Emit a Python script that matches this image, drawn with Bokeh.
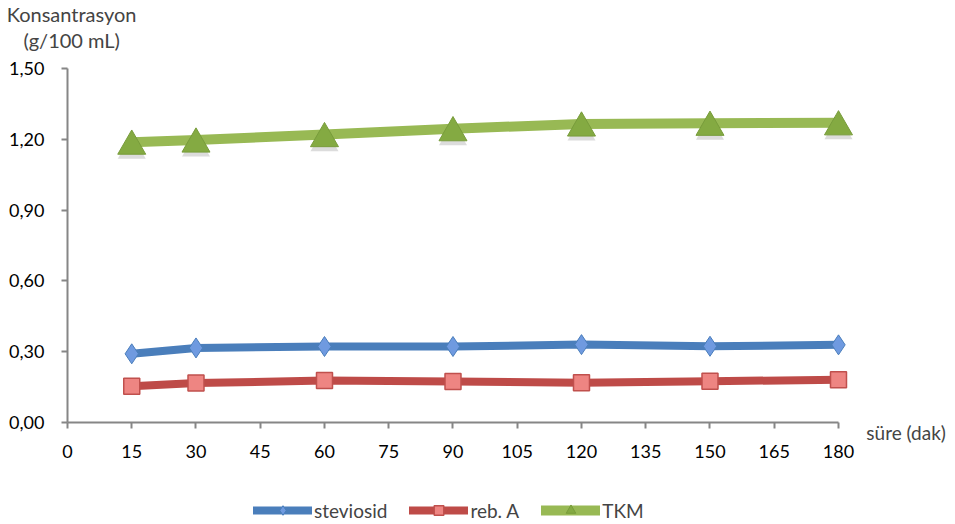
from bokeh.plotting import figure
from bokeh.models import Legend, LegendItem, Label, FixedTicker, Range1d, LinearAxis, ColumnDataSource
from bokeh.transform import dodge
from bokeh.embed import file_html
from bokeh.resources import INLINE

# sampling times (minutes)
sure = [15, 30, 60, 90, 120, 150, 180]
# concentrations (g/100 mL)
steviosid = [0.291, 0.316, 0.322, 0.322, 0.330, 0.323, 0.329]
reb_a = [0.154, 0.167, 0.178, 0.174, 0.168, 0.175, 0.181]
tkm = [1.188, 1.197, 1.220, 1.245, 1.265, 1.268, 1.270]

x_ticks = list(range(0, 181, 15))
y_ticks = [0.0, 0.3, 0.6, 0.9, 1.2, 1.5]
y_tick_labels = ["0,00", "0,30", "0,60", "0,90", "1,20", "1,50"]

FONT = "Lato"
TICK_FS = "18px"
TITLE_FS = "20px"
LEGEND_FS = "19px"
AXIS_GREY = "#868686"

# The plotting frame fills the whole canvas; the axes sit at x=0 / y=0
# so that labels and markers near the edges are never clipped.
W, H = 955, 524
px_x = 4.2833   # pixels per minute
px_y = 236.0    # pixels per g/100 mL
left_px, bottom_px = 67, 102
x0 = -left_px / px_x
y0 = -bottom_px / px_y

p = figure(width=W, height=H, output_backend="svg", toolbar_location=None,
           x_range=Range1d(x0, x0 + W / px_x), y_range=Range1d(y0, y0 + H / px_y),
           x_axis_location=None, y_axis_location=None, min_border=0)
p.outline_line_color = None
p.xgrid.visible = False
p.ygrid.visible = False

xaxis = LinearAxis(fixed_location=0, bounds=(0, 180), ticker=FixedTicker(ticks=x_ticks))
yaxis = LinearAxis(fixed_location=0, bounds=(0, 1.5), ticker=FixedTicker(ticks=y_ticks))
yaxis.major_label_overrides = dict(zip(y_ticks, y_tick_labels))
for ax in (xaxis, yaxis):
    ax.axis_line_color = AXIS_GREY
    ax.axis_line_width = 2
    ax.major_tick_line_color = AXIS_GREY
    ax.major_tick_line_width = 2
    ax.major_tick_out = 6
    ax.major_tick_in = 0
    ax.minor_tick_line_color = None
    ax.major_label_text_font = FONT
    ax.major_label_text_font_size = TICK_FS
    ax.major_label_text_color = "#000000"
xaxis.major_label_standoff = 16
yaxis.major_label_standoff = 17
p.add_layout(xaxis, "below")
p.add_layout(yaxis, "left")

src = ColumnDataSource(dict(x=sure, st=steviosid, rb=reb_a, tkm=tkm))

# TKM (triangles centred on their bounding box, with a soft drop shadow)
l_tkm = p.line("x", "tkm", source=src, line_color="#98b954", line_width=10,
               line_join="round", line_cap="round")
p.scatter("x", dodge("tkm", -0.036, range=p.y_range), source=src, marker="triangle", size=28,
          fill_color="#606060", fill_alpha=0.22, line_color=None)
s_tkm = p.scatter("x", dodge("tkm", -0.017, range=p.y_range), source=src, marker="triangle",
                  size=28, fill_color="#84aa42", line_color="#789c3b", line_width=1)

# steviosid
l_st = p.line("x", "st", source=src, line_color="#4a7ebb", line_width=8,
              line_join="round", line_cap="round")
s_st = p.scatter("x", "st", source=src, marker="diamond", size=20, fill_color="#6f9ae0",
                 line_color="#4a7ebb", line_width=1)

# reb. A
l_rb = p.line("x", "rb", source=src, line_color="#be4b48", line_width=8,
              line_join="round", line_cap="round")
s_rb = p.scatter("x", "rb", source=src, marker="square", size=16, fill_color="#ee8582",
                 line_color="#c0504d", line_width=1.5)

legend = Legend(items=[
    LegendItem(label="steviosid", renderers=[l_st, s_st]),
    LegendItem(label="reb. A", renderers=[l_rb, s_rb]),
    LegendItem(label="TKM", renderers=[l_tkm, s_tkm]),
], orientation="horizontal", location=(253, 2),
    label_text_font=FONT, label_text_font_size=LEGEND_FS,
    glyph_width=59, glyph_height=24, label_standoff=2, spacing=22,
    background_fill_alpha=0, border_line_color=None, padding=0, margin=0)
p.add_layout(legend, "center")

# axis titles
p.add_layout(Label(x=186.5, y=-0.042, text="süre (dak)", text_font=FONT,
                   text_font_size="19px", text_baseline="middle"))
p.add_layout(Label(x=-14.2, y=1.731, text="Konsantrasyon", text_font=FONT,
                   text_font_size=TITLE_FS, text_baseline="middle"))
p.add_layout(Label(x=-10.3, y=1.619, text="(g/100 mL)", text_font=FONT,
                   text_font_size=TITLE_FS, text_baseline="middle"))

open("out.html", "w").write(file_html(p, INLINE))
